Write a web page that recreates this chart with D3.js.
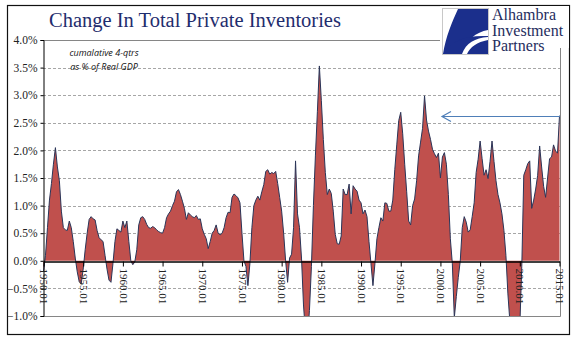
<!DOCTYPE html>
<html>
<head>
<meta charset="utf-8">
<script src="https://cdn.jsdelivr.net/npm/d3@7"></script>
<style>
  body { margin: 0; background: #fff; }
  svg { display: block; }
</style>
</head>
<body>
<div id="chart"></div>
<script>
// quarterly values, 1950Q1 .. 2015Q1, cumulative 4-qtr change as % of real GDP
var startYear = 1950;
var inventoryPct = [
  -0.2, 0.1, 0.6, 1.1, 1.4, 1.75, 2.05, 1.7, 1.45, 0.9,
  0.6, 0.56, 0.55, 0.72, 0.6, 0.35, 0.05, -0.2, -0.38, -0.42,
  -0.15, 0.2, 0.5, 0.75, 0.8, 0.76, 0.74, 0.55, 0.42, 0.38,
  0.35, 0.1, -0.15, -0.35, -0.39, -0.05, 0.35, 0.58, 0.55, 0.52,
  0.72, 0.6, 0.72, 0.35, 0.0, -0.07, -0.02, 0.2, 0.65, 0.78,
  0.8, 0.75, 0.66, 0.6, 0.59, 0.62, 0.6, 0.56, 0.53, 0.51,
  0.5, 0.6, 0.78, 0.85, 0.9, 1.0, 1.08, 1.25, 1.29, 1.2,
  1.08, 0.95, 0.75, 0.87, 0.83, 0.8, 0.78, 0.82, 0.75, 0.76,
  0.58, 0.48, 0.4, 0.22, 0.35, 0.5, 0.55, 0.65, 0.5, 0.47,
  0.5, 0.6, 0.78, 0.88, 0.87, 1.15, 1.21, 1.18, 1.14, 1.05,
  0.5, 0.0, -0.1, -0.45, -0.05, 0.6, 1.0, 1.1, 1.17, 1.1,
  1.25, 1.38, 1.62, 1.65, 1.57, 1.6, 1.58, 1.62, 1.4, 1.15,
  0.9, 0.5, 0.0, -0.39, 0.05, 0.12, 0.6, 1.81, 0.85, 0.6,
  0.05, -0.8, -1.3, -1.4, -0.9, -0.1, 1.0, 1.9, 2.7, 3.53,
  2.9, 2.2, 1.6, 1.2, 1.3, 1.22, 0.9, 0.48, 0.31, 0.3,
  0.45, 1.3, 1.2, 1.2, 1.39, 0.85, 1.36, 1.3, 1.26, 1.1,
  1.05, 0.85, 0.92, 0.8, 0.35, -0.05, -0.45, -0.05, 0.4, 0.6,
  0.78, 0.72, 1.05, 1.04, 0.9, 0.9, 1.1, 1.65, 2.1, 2.54,
  2.69, 2.3, 1.75, 1.25, 0.72, 0.65, 1.0, 1.12, 1.45, 1.9,
  2.15, 2.4, 2.99, 2.55, 2.35, 2.2, 2.02, 1.94, 1.87, 1.95,
  1.5, 1.88, 1.96, 1.75, 1.2, 0.4, -0.05, -1.03, -0.65, -0.3,
  0.0, 0.6, 0.8, 0.7, 0.52, 0.56, 0.8, 1.05, 1.6, 1.84,
  2.17, 1.85, 1.55, 1.65, 1.49, 1.8, 2.17, 1.8, 1.45, 1.2,
  1.05, 0.85, 0.55, 0.1, -0.6, -1.1, -1.5, -1.8, -1.8, -1.5,
  -1.2, -0.1, 1.55, 1.65, 1.76, 1.81, 0.95, 1.1, 1.3, 1.55,
  2.08, 1.7, 1.35, 1.15, 1.5, 1.85, 1.88, 2.1, 1.99, 1.95, 2.63
];
var xTickYears = [1950, 1955, 1960, 1965, 1970, 1975, 1980, 1985, 1990, 1995, 2000, 2005, 2010, 2015];
var yTickValues = [-1.0, -0.5, 0.0, 0.5, 1.0, 1.5, 2.0, 2.5, 3.0, 3.5, 4.0];
var noteLines = ["cumalative 4-qtrs", "as % of Real GDP"];
var logoLines = ["Alhambra", "Investment", "Partners"];

var svgWidth = 577;
var svgHeight = 341;

var plot = { left: 43, right: 560, top: 40, bottom: 316 };

var svg = d3.select("#chart")
  .append("svg")
  .attr("width", svgWidth)
  .attr("height", svgHeight);

// outer frame
svg.append("rect")
  .attr("x", 7.5).attr("y", 5.5)
  .attr("width", 562).attr("height", 329)
  .attr("fill", "none")
  .attr("stroke", "#111")
  .attr("stroke-width", 1.2);

var data = inventoryPct.map(function(v, i) {
  return { t: startYear + i / 4, v: v };
});

var x = d3.scaleLinear().domain([1950, 2015]).range([43.5, 559.5]);
var y = d3.scaleLinear().domain([-1, 4]).range([plot.bottom, plot.top]);

// gridlines
svg.append("g")
  .selectAll("line")
  .data(yTickValues.filter(function(d) { return d !== 0 && d !== -1 && d !== 4; }))
  .enter()
  .append("line")
  .attr("x1", plot.left).attr("x2", plot.right)
  .attr("y1", function(d) { return Math.round(y(d)) + 0.5; })
  .attr("y2", function(d) { return Math.round(y(d)) + 0.5; })
  .attr("stroke", "#a6a6a6")
  .attr("stroke-dasharray", "3,2");

// plot frame (top, right, bottom)
svg.append("path")
  .attr("d", "M" + plot.left + "," + (plot.top + 0.5) + "H" + (plot.right + 0.5) +
    "V" + (plot.bottom + 0.5) + "H" + plot.left)
  .attr("fill", "none")
  .attr("stroke", "#868686")
  .attr("stroke-width", 1);

svg.append("clipPath")
  .attr("id", "plotClip")
  .append("rect")
  .attr("x", plot.left).attr("y", plot.top)
  .attr("width", plot.right - plot.left + 2)
  .attr("height", plot.bottom - plot.top);

var area = d3.area()
  .x(function(d) { return x(d.t); })
  .y0(y(0))
  .y1(function(d) { return y(d.v); });

var line = d3.line()
  .x(function(d) { return x(d.t); })
  .y(function(d) { return y(d.v); });

var chartGroup = svg.append("g").attr("clip-path", "url(#plotClip)");

chartGroup.append("path")
  .datum(data)
  .attr("d", area)
  .attr("fill", "#c0504d");

chartGroup.append("path")
  .datum(data)
  .attr("d", line)
  .attr("fill", "none")
  .attr("stroke", "#2a3558")
  .attr("stroke-width", 1);

// y axis
var leftAxis = d3.axisLeft(y)
  .tickValues(yTickValues)
  .tickSize(3)
  .tickFormat(function(d) { return d3.format(".1f")(d) + "%"; });

var yAxis = svg.append("g")
  .attr("transform", "translate(" + (plot.left + 0.5) + ",0)")
  .call(leftAxis);
yAxis.select(".domain").attr("stroke", "#000");
yAxis.selectAll("line").attr("stroke", "#000");
yAxis.selectAll("text")
  .attr("font-family", "'Liberation Serif', 'DejaVu Serif', serif")
  .attr("font-size", "11.5px")
  .attr("fill", "#222")
  .attr("x", -6);

// x axis on the zero line
var bottomAxis = d3.axisBottom(x)
  .tickValues(xTickYears)
  .tickSize(5)
  .tickSizeOuter(0)
  .tickFormat(function(d) { return d + ".01"; });

var xAxis = svg.append("g")
  .attr("transform", "translate(0," + (Math.round(y(0)) + 0.5) + ")")
  .call(bottomAxis);
xAxis.select(".domain").attr("stroke", "#000").attr("stroke-width", 1.3);
xAxis.selectAll("line").attr("stroke", "#000");
xAxis.selectAll("text")
  .attr("transform", "rotate(90)")
  .attr("x", 7)
  .attr("y", 0)
  .attr("dy", "0.35em")
  .attr("text-anchor", "start")
  .attr("font-family", "'Liberation Serif', 'DejaVu Serif', serif")
  .attr("font-size", "11px")
  .attr("fill", "#222");

// title
svg.append("text")
  .attr("x", 49)
  .attr("y", 27)
  .attr("font-family", "'Liberation Serif', 'DejaVu Serif', serif")
  .attr("font-size", "20.5px")
  .attr("fill", "#1f2d6e")
  .text("Change In Total Private Inventories");

// note
svg.append("g")
  .selectAll("text")
  .data(noteLines)
  .enter()
  .append("text")
  .attr("x", 104)
  .attr("y", function(d, i) { return 56 + i * 14; })
  .attr("text-anchor", "middle")
  .attr("font-family", "'Open Sans', 'DejaVu Sans', sans-serif")
  .attr("font-style", "italic")
  .attr("font-size", "9px")
  .attr("fill", "#111")
  .text(function(d) { return d; });

// arrow pointing at the latest level
var arrowY = 116.5;
var arrow = svg.append("g")
  .attr("stroke", "#4f7fb8")
  .attr("stroke-width", 1.2)
  .attr("fill", "none");
arrow.append("line")
  .attr("x1", 442).attr("x2", plot.right)
  .attr("y1", arrowY).attr("y2", arrowY);
arrow.append("path")
  .attr("d", "M451," + (arrowY - 5) + "L442," + arrowY + "L451," + (arrowY + 5));

// logo block
var logo = svg.append("g");
logo.append("rect")
  .attr("x", 440).attr("y", 6)
  .attr("width", 129).attr("height", 42)
  .attr("fill", "#fff");
logo.append("rect")
  .attr("x", 442.5).attr("y", 8.5)
  .attr("width", 46).attr("height", 46)
  .attr("fill", "#fff")
  .attr("stroke", "#c8c8c8");
logo.append("path")
  .attr("d", "M458,9 L488,9 L488,30 C476,32 466,40 462,54 L443,54 C446,36 452,22 458,9 Z")
  .attr("fill", "#1b2f8c");
logo.append("path")
  .attr("d", "M443,54 C452,40 466,35 488,36 L488,54 Z")
  .attr("fill", "#1b2f8c");
logo.append("path")
  .attr("d", "M462,54 C466,43 475,38 488,37 L488,40 C477,42 470,47 467,54 Z")
  .attr("fill", "#fff");

logo.selectAll("text.logo")
  .data(logoLines)
  .enter()
  .append("text")
  .attr("class", "logo")
  .attr("x", 492)
  .attr("y", function(d, i) { return 20 + i * 15.5; })
  .attr("font-family", "'Liberation Serif', 'DejaVu Serif', serif")
  .attr("font-size", "16px")
  .attr("fill", "#1f2d5e")
  .text(function(d) { return d; });
</script>
</body>
</html>
